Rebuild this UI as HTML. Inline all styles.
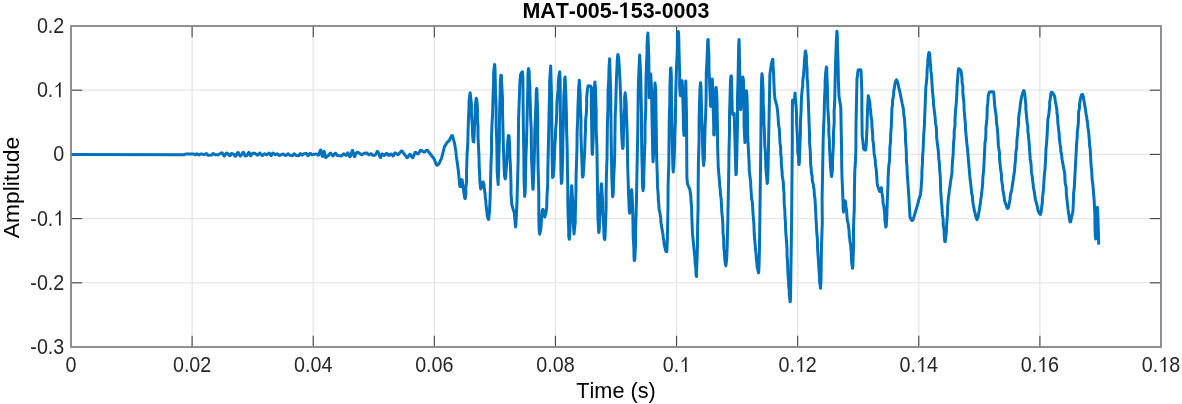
<!DOCTYPE html>
<html><head><meta charset="utf-8"><style>
html,body{margin:0;padding:0;background:#fff;width:1182px;height:404px;overflow:hidden}
svg{display:block;will-change:transform}
text{font-family:"Liberation Sans",sans-serif;stroke:none;font-kerning:none}
</style></head><body>
<svg width="1182" height="404" viewBox="0 0 1182 404">
<rect x="0" y="0" width="1182" height="404" fill="#fff"/>
<g stroke="#e6e6e6" stroke-width="1.3"><line x1="192.11" y1="26.0" x2="192.11" y2="347.0"/><line x1="313.22" y1="26.0" x2="313.22" y2="347.0"/><line x1="434.33" y1="26.0" x2="434.33" y2="347.0"/><line x1="555.44" y1="26.0" x2="555.44" y2="347.0"/><line x1="676.56" y1="26.0" x2="676.56" y2="347.0"/><line x1="797.67" y1="26.0" x2="797.67" y2="347.0"/><line x1="918.78" y1="26.0" x2="918.78" y2="347.0"/><line x1="1039.89" y1="26.0" x2="1039.89" y2="347.0"/><line x1="71.0" y1="90.20" x2="1161.0" y2="90.20"/><line x1="71.0" y1="154.40" x2="1161.0" y2="154.40"/><line x1="71.0" y1="218.60" x2="1161.0" y2="218.60"/><line x1="71.0" y1="282.80" x2="1161.0" y2="282.80"/></g>
<g stroke="#444" stroke-width="1.1"><line x1="192.11" y1="347.0" x2="192.11" y2="335.8"/><line x1="192.11" y1="26.0" x2="192.11" y2="37.2"/><line x1="313.22" y1="347.0" x2="313.22" y2="335.8"/><line x1="313.22" y1="26.0" x2="313.22" y2="37.2"/><line x1="434.33" y1="347.0" x2="434.33" y2="335.8"/><line x1="434.33" y1="26.0" x2="434.33" y2="37.2"/><line x1="555.44" y1="347.0" x2="555.44" y2="335.8"/><line x1="555.44" y1="26.0" x2="555.44" y2="37.2"/><line x1="676.56" y1="347.0" x2="676.56" y2="335.8"/><line x1="676.56" y1="26.0" x2="676.56" y2="37.2"/><line x1="797.67" y1="347.0" x2="797.67" y2="335.8"/><line x1="797.67" y1="26.0" x2="797.67" y2="37.2"/><line x1="918.78" y1="347.0" x2="918.78" y2="335.8"/><line x1="918.78" y1="26.0" x2="918.78" y2="37.2"/><line x1="1039.89" y1="347.0" x2="1039.89" y2="335.8"/><line x1="1039.89" y1="26.0" x2="1039.89" y2="37.2"/><line x1="71.0" y1="90.20" x2="82.2" y2="90.20"/><line x1="1161.0" y1="90.20" x2="1149.8" y2="90.20"/><line x1="71.0" y1="154.40" x2="82.2" y2="154.40"/><line x1="1161.0" y1="154.40" x2="1149.8" y2="154.40"/><line x1="71.0" y1="218.60" x2="82.2" y2="218.60"/><line x1="1161.0" y1="218.60" x2="1149.8" y2="218.60"/><line x1="71.0" y1="282.80" x2="82.2" y2="282.80"/><line x1="1161.0" y1="282.80" x2="1149.8" y2="282.80"/></g>
<defs><clipPath id="ax"><rect x="71.0" y="0" width="1090.0" height="404"/></clipPath></defs>
<path d="M71.0,154.6 L184.2,154.7 L185.5,154.0 L193.8,154.0 L195.1,154.8 L195.4,154.8 L196.7,153.7 L198.7,154.9 L201.3,153.8 L204.0,154.7 L206.3,153.6 L206.6,153.6 L207.9,155.2 L211.6,155.0 L212.2,154.5 L212.9,153.6 L213.2,153.4 L215.2,154.7 L218.2,154.7 L221.8,152.7 L222.1,152.8 L223.8,155.8 L224.1,156.0 L224.8,155.4 L226.1,153.3 L226.4,153.0 L227.1,153.2 L229.7,155.7 L230.1,155.6 L231.4,153.5 L233.7,154.2 L235.0,156.1 L235.3,156.3 L235.7,156.3 L237.6,152.8 L238.0,152.5 L238.3,152.7 L240.0,155.9 L240.3,156.1 L241.9,154.5 L242.9,152.5 L243.3,152.3 L243.6,152.5 L245.2,155.9 L246.9,155.6 L248.5,152.7 L248.9,152.4 L249.2,152.7 L250.5,155.8 L250.8,155.8 L252.5,153.3 L255.1,153.3 L257.1,155.0 L257.8,155.1 L259.8,153.1 L260.1,153.1 L262.1,155.6 L262.4,155.7 L264.4,153.7 L266.4,154.7 L267.0,154.7 L269.0,153.1 L269.3,153.1 L271.0,155.6 L271.3,155.5 L272.6,153.3 L273.0,153.1 L275.3,154.7 L277.2,153.8 L277.9,154.2 L278.9,155.3 L279.6,155.4 L283.2,153.9 L285.5,155.5 L286.2,155.3 L287.8,153.8 L288.1,153.7 L289.8,155.2 L292.4,155.7 L294.1,153.8 L294.4,153.7 L296.1,155.5 L298.7,155.8 L300.0,153.7 L300.3,153.6 L301.7,155.1 L302.0,155.2 L303.6,153.8 L306.6,153.6 L307.6,155.5 L307.9,155.7 L308.6,155.2 L309.9,153.5 L310.6,153.5 L312.2,154.7 L316.2,153.9 L318.2,155.2 L318.5,155.1 L320.5,150.0 L320.8,150.0 L322.1,155.8 L322.5,156.5 L322.8,156.1 L323.8,152.2 L324.1,151.4 L324.4,151.8 L325.4,157.0 L325.8,157.5 L328.7,155.2 L330.0,153.4 L330.4,153.1 L330.7,153.2 L332.7,155.8 L333.0,155.9 L335.0,153.3 L335.3,153.2 L335.7,153.3 L337.0,155.3 L337.3,155.5 L341.6,155.9 L343.6,153.8 L344.2,154.0 L345.9,155.5 L346.2,155.5 L347.5,153.1 L347.9,152.9 L348.5,154.0 L349.5,156.3 L349.8,156.7 L350.2,156.7 L352.2,150.6 L352.5,150.4 L353.1,152.1 L354.1,156.1 L354.5,156.7 L354.8,156.6 L355.8,153.5 L357.1,152.3 L357.8,152.2 L361.7,154.8 L362.4,154.8 L364.0,153.2 L366.3,152.9 L367.0,153.2 L368.7,154.8 L369.3,154.7 L370.6,153.8 L371.3,153.8 L372.9,155.4 L375.3,155.1 L377.2,151.5 L377.6,151.4 L378.2,152.3 L379.9,156.8 L380.2,157.3 L380.5,157.5 L380.9,157.0 L381.9,154.1 L382.2,153.8 L383.8,155.4 L384.2,155.5 L386.5,153.5 L387.1,153.6 L388.8,155.4 L389.4,155.3 L391.1,154.0 L391.4,154.0 L393.1,155.9 L393.4,155.8 L394.7,153.1 L395.1,152.9 L397.7,154.5 L398.4,154.4 L401.3,151.1 L402.0,150.9 L406.9,157.6 L407.3,157.7 L407.9,157.2 L409.6,154.5 L409.9,154.3 L410.2,154.4 L412.2,157.4 L412.5,157.7 L412.9,157.6 L414.9,152.8 L415.2,152.3 L415.5,152.2 L417.5,153.9 L417.8,154.0 L418.5,153.5 L420.5,150.4 L421.1,150.2 L423.8,152.0 L424.8,151.7 L426.7,150.2 L427.4,150.3 L434.0,158.7 L436.3,164.4 L437.0,165.2 L437.6,165.2 L438.9,163.8 L441.5,158.3 L444.5,146.6 L447.2,142.4 L449.4,140.3 L451.2,136.4 L451.8,135.7 L452.1,135.5 L452.5,135.7 L454.4,142.8 L455.8,150.7 L456.3,155.9 L458.3,170.2 L459.7,185.1 L460.0,186.5 L460.5,186.7 L460.9,185.3 L461.3,180.9 L461.6,179.6 L462.1,179.9 L464.7,198.0 L465.1,198.5 L465.5,197.2 L465.9,193.6 L465.8,188.1 L466.6,181.0 L466.5,172.7 L467.1,153.8 L467.8,143.7 L468.0,133.7 L468.6,115.2 L469.0,107.4 L469.1,100.8 L470.0,93.2 L470.2,92.8 L471.5,105.2 L471.4,112.2 L471.8,119.6 L472.4,126.7 L472.5,133.2 L473.1,141.3 L473.8,141.9 L474.9,119.7 L475.4,105.5 L476.2,98.3 L476.6,99.3 L477.1,103.1 L477.5,109.2 L477.4,117.1 L478.0,126.3 L478.0,136.4 L479.0,157.1 L479.2,166.7 L479.7,175.2 L479.9,182.0 L480.7,188.9 L482.1,185.3 L482.6,182.8 L482.8,182.1 L483.2,182.1 L484.0,184.2 L484.2,188.6 L485.2,194.4 L485.3,197.6 L485.8,200.9 L486.0,204.2 L487.3,215.6 L488.1,218.8 L488.5,219.5 L488.8,219.2 L488.9,216.5 L489.5,211.6 L490.2,196.1 L491.0,163.1 L491.6,150.8 L491.5,138.2 L491.9,125.7 L492.6,113.6 L493.2,91.7 L493.6,82.5 L493.6,74.9 L494.0,69.2 L494.6,64.5 L495.0,68.2 L495.5,91.2 L496.2,107.7 L496.1,125.5 L496.8,143.2 L497.2,172.6 L498.2,184.5 L498.2,180.5 L498.7,170.9 L498.8,157.1 L499.4,140.7 L499.4,123.2 L500.4,80.8 L500.9,75.2 L501.5,75.7 L501.5,80.4 L502.5,98.7 L502.5,110.7 L503.5,149.5 L504.2,169.9 L504.6,176.2 L505.2,178.9 L505.8,175.9 L505.9,172.0 L506.8,161.6 L507.0,155.8 L507.8,140.4 L508.4,135.4 L509.1,136.1 L509.7,146.6 L509.8,155.1 L510.4,164.8 L511.0,184.7 L511.0,193.4 L511.8,204.7 L514.4,213.3 L515.5,227.0 L515.9,225.1 L517.0,201.6 L518.1,161.8 L518.6,118.5 L519.8,84.9 L520.2,78.2 L520.6,74.4 L521.8,72.2 L522.4,71.8 L522.9,77.5 L523.3,123.7 L523.8,152.9 L524.0,178.4 L524.7,196.4 L525.2,191.9 L525.9,157.6 L526.5,142.3 L527.9,84.3 L527.9,74.9 L528.4,69.4 L528.6,68.6 L529.2,72.0 L529.3,78.5 L529.9,86.8 L530.0,95.9 L530.4,104.6 L530.5,115.3 L531.2,128.6 L531.3,143.2 L531.5,157.8 L532.8,188.0 L533.0,189.3 L533.3,186.1 L533.4,179.4 L533.9,170.1 L534.6,146.4 L534.7,133.6 L536.1,99.7 L536.2,92.4 L536.7,88.4 L536.9,89.2 L537.8,118.3 L537.7,141.9 L538.1,167.7 L538.8,192.8 L538.8,214.3 L539.1,229.4 L539.7,234.2 L540.8,229.2 L541.2,225.5 L541.3,221.5 L542.2,211.4 L542.5,209.7 L542.9,209.3 L543.3,210.2 L544.8,217.0 L545.4,214.9 L546.0,212.7 L546.7,207.0 L547.0,195.8 L547.7,184.9 L547.8,171.4 L548.9,123.1 L549.2,107.2 L549.6,92.7 L549.7,80.4 L550.7,66.0 L551.7,102.9 L552.1,156.0 L552.6,177.6 L553.4,176.2 L553.4,173.4 L553.9,169.3 L554.9,144.5 L555.4,137.3 L555.6,129.9 L556.3,122.8 L556.8,109.9 L556.9,104.6 L557.6,94.7 L558.2,89.4 L558.2,84.3 L558.9,75.8 L559.7,71.8 L560.2,79.7 L560.3,106.2 L560.9,169.9 L561.4,183.5 L561.9,181.4 L562.8,151.9 L562.9,137.8 L563.4,123.2 L563.8,96.4 L564.5,86.2 L564.6,79.4 L565.1,76.9 L566.0,99.2 L566.4,113.9 L566.6,130.8 L567.2,149.0 L567.4,167.6 L567.8,185.7 L567.8,202.6 L568.2,217.2 L568.7,228.7 L568.7,236.3 L569.3,239.2 L569.7,236.2 L571.0,197.9 L571.7,185.7 L572.7,202.3 L572.7,212.8 L573.8,230.8 L574.1,234.0 L574.4,229.8 L575.2,222.9 L575.3,213.5 L576.0,189.5 L576.1,175.8 L577.0,147.0 L577.1,132.9 L577.7,119.5 L577.9,107.4 L578.4,97.0 L578.6,88.7 L579.3,80.2 L580.2,95.6 L580.4,107.1 L581.0,120.2 L580.9,133.9 L581.8,159.1 L582.2,168.7 L582.3,175.0 L582.7,177.1 L583.2,175.8 L584.0,161.7 L584.6,154.5 L585.1,138.1 L585.5,129.5 L585.6,120.8 L586.4,112.6 L586.7,104.9 L586.6,98.1 L587.6,88.5 L588.0,86.1 L588.3,85.8 L590.8,86.3 L591.3,87.4 L591.3,105.3 L592.1,153.3 L592.5,154.4 L593.2,137.7 L593.3,125.0 L594.3,88.5 L594.9,81.9 L595.4,87.4 L596.2,112.1 L596.2,129.2 L596.9,147.8 L597.9,216.8 L598.7,232.5 L599.0,232.1 L599.4,227.3 L599.5,219.5 L600.1,210.0 L600.2,200.4 L601.2,185.7 L601.5,183.7 L601.8,189.5 L602.3,195.8 L602.7,203.5 L602.7,211.8 L603.8,227.6 L604.1,238.0 L604.7,239.5 L605.0,237.1 L606.1,207.9 L606.1,193.0 L606.4,176.4 L607.0,158.9 L607.4,123.4 L608.0,106.8 L608.0,91.6 L608.8,78.7 L609.0,68.4 L609.6,58.8 L610.7,91.6 L611.1,135.5 L611.8,176.4 L612.6,196.8 L612.9,196.0 L613.3,192.1 L613.7,176.9 L614.3,166.5 L614.7,154.8 L615.2,115.6 L615.8,102.7 L616.4,79.3 L617.5,56.9 L617.9,54.6 L618.6,57.4 L619.3,66.4 L619.4,72.0 L619.9,77.7 L620.8,100.7 L621.6,131.9 L621.9,140.2 L622.7,148.6 L623.3,146.2 L623.3,139.1 L624.1,117.5 L624.7,106.4 L624.6,97.5 L625.2,92.8 L626.2,103.7 L626.4,113.0 L626.9,124.2 L627.5,149.9 L627.6,163.2 L628.7,198.0 L629.3,211.3 L629.7,213.2 L630.0,211.5 L631.4,190.7 L631.7,189.6 L632.0,193.4 L632.8,212.4 L633.2,237.2 L633.9,248.2 L634.0,256.5 L634.3,260.6 L634.7,259.6 L635.5,245.5 L635.5,233.6 L636.4,202.7 L637.8,128.8 L638.2,94.8 L638.5,80.5 L639.4,60.3 L639.7,55.1 L640.7,75.0 L641.0,92.5 L641.5,112.8 L641.5,133.9 L641.8,154.1 L642.3,171.6 L642.4,184.5 L643.0,190.7 L643.8,186.3 L643.7,178.6 L644.4,155.6 L645.0,141.5 L645.0,126.3 L645.7,110.7 L646.0,80.0 L646.4,66.1 L647.0,54.0 L647.1,44.0 L647.5,36.9 L647.9,33.1 L648.8,57.2 L649.2,97.8 L650.0,83.8 L650.2,77.6 L650.7,73.9 L651.6,89.9 L651.8,108.8 L652.9,160.0 L653.1,161.7 L653.7,152.2 L653.7,135.5 L654.4,115.9 L654.4,97.8 L655.0,83.0 L655.7,89.8 L656.7,159.5 L657.3,175.5 L657.5,186.3 L658.3,196.1 L658.3,200.1 L658.8,203.7 L658.9,207.0 L659.2,209.9 L659.9,212.6 L660.9,219.4 L660.8,221.6 L662.6,232.5 L663.1,234.8 L663.2,237.2 L664.0,241.7 L664.1,243.8 L665.8,251.1 L666.2,251.7 L666.8,251.7 L667.4,237.7 L668.0,205.6 L668.1,185.4 L668.8,164.0 L669.2,121.5 L669.8,102.5 L669.9,86.6 L670.6,68.1 L671.0,68.0 L671.4,77.5 L671.4,94.2 L671.9,114.9 L672.1,136.3 L672.9,168.0 L673.2,172.0 L673.9,164.3 L674.6,146.1 L674.8,134.3 L675.4,121.3 L675.7,93.8 L676.5,67.3 L677.1,55.7 L677.4,45.9 L677.4,38.2 L677.7,33.2 L678.3,31.5 L678.7,35.4 L679.2,58.9 L679.7,73.3 L679.6,85.9 L680.3,95.7 L681.1,93.4 L681.1,89.3 L681.8,81.4 L682.1,80.6 L682.5,87.1 L683.3,115.0 L683.5,128.2 L684.0,135.5 L684.5,124.9 L685.1,98.7 L685.8,81.0 L686.5,114.7 L686.9,177.0 L687.4,183.6 L689.9,189.8 L690.8,195.7 L691.0,200.8 L691.6,206.8 L691.7,213.5 L692.5,233.9 L694.9,257.7 L695.1,262.9 L695.9,269.3 L696.0,274.7 L696.5,276.5 L696.5,272.0 L697.0,261.7 L697.4,246.7 L697.6,228.0 L698.1,206.8 L698.2,184.2 L698.4,161.4 L699.1,139.5 L699.1,119.6 L699.9,90.4 L700.4,83.4 L700.6,82.7 L701.0,87.4 L701.8,120.3 L702.4,133.5 L702.6,145.9 L702.9,156.1 L703.6,165.5 L704.4,158.0 L704.5,149.6 L705.1,126.6 L705.7,113.2 L706.1,99.3 L706.3,72.5 L707.0,60.8 L707.6,43.8 L707.9,39.6 L708.2,39.5 L708.3,45.4 L708.9,56.0 L709.0,69.3 L710.6,106.4 L711.4,97.1 L711.3,89.6 L712.3,79.1 L713.0,92.8 L713.2,108.8 L713.7,124.4 L713.7,134.5 L714.3,135.0 L714.4,129.0 L715.0,119.2 L715.3,107.9 L715.2,97.3 L715.8,89.8 L716.1,87.5 L716.6,92.0 L717.0,101.9 L717.5,130.7 L717.6,145.9 L718.3,168.2 L719.6,182.8 L719.8,186.5 L720.3,189.7 L720.4,192.9 L720.7,196.1 L721.2,199.3 L721.8,212.0 L722.5,218.2 L722.9,225.4 L723.0,232.6 L723.7,239.1 L723.7,244.1 L723.9,248.4 L724.4,252.7 L724.9,260.3 L725.3,263.2 L725.9,265.9 L726.7,258.5 L727.1,248.9 L727.8,221.4 L728.8,168.4 L729.0,150.0 L729.5,132.3 L729.5,115.9 L730.5,80.9 L730.9,76.0 L731.4,76.2 L732.0,98.9 L732.2,110.9 L732.8,114.5 L733.4,113.5 L734.2,113.4 L735.9,174.8 L736.3,174.1 L736.6,163.8 L737.5,124.3 L737.4,100.4 L738.1,77.3 L738.7,44.2 L739.1,39.6 L740.5,109.8 L740.8,108.5 L741.6,91.6 L742.3,85.2 L742.3,80.0 L742.8,77.1 L743.4,79.5 L744.0,108.3 L744.1,125.7 L744.9,142.6 L745.3,135.8 L745.5,122.7 L746.1,107.8 L746.1,95.6 L746.5,90.8 L746.9,95.6 L747.3,107.0 L747.7,136.2 L749.2,165.0 L749.2,169.8 L750.7,182.6 L750.8,186.9 L751.6,198.8 L752.4,202.5 L753.1,214.7 L753.9,223.9 L754.2,233.5 L755.7,251.4 L756.2,255.1 L756.3,258.4 L757.0,263.9 L757.1,266.6 L758.6,272.8 L759.0,266.9 L759.4,252.1 L760.8,147.0 L761.2,97.7 L761.5,81.5 L761.9,73.8 L762.3,75.3 L763.2,92.5 L763.2,103.6 L763.9,113.6 L763.9,121.3 L764.3,129.2 L764.8,145.6 L765.5,153.6 L765.9,168.1 L767.2,183.5 L767.6,181.4 L768.0,171.4 L769.9,74.2 L771.4,63.8 L772.6,59.3 L772.8,59.4 L773.6,74.5 L774.4,94.0 L775.1,99.8 L776.9,105.8 L777.8,113.1 L778.6,124.8 L779.3,129.1 L780.0,142.7 L780.7,147.9 L780.7,153.3 L781.3,158.6 L781.3,163.5 L782.1,171.8 L782.2,175.6 L782.9,179.4 L783.4,183.4 L783.5,187.7 L784.0,192.6 L784.2,203.9 L784.8,210.0 L785.0,216.3 L785.5,222.8 L785.6,229.2 L787.0,248.1 L787.0,254.8 L787.5,261.6 L788.0,274.9 L788.6,281.0 L788.7,286.5 L789.3,291.1 L789.3,295.1 L790.1,301.8 L790.4,301.5 L790.7,286.5 L791.6,220.3 L792.3,143.3 L792.3,114.7 L792.5,100.2 L793.2,99.8 L793.8,102.8 L794.5,98.4 L795.1,93.0 L795.4,98.5 L796.1,106.4 L796.6,115.1 L796.6,122.6 L797.7,144.3 L797.7,151.5 L798.6,157.6 L798.6,162.2 L799.0,164.6 L799.3,163.4 L800.4,132.8 L800.5,120.4 L801.1,110.3 L801.4,98.6 L802.2,89.6 L802.8,85.7 L802.7,81.8 L803.1,78.0 L803.6,74.2 L804.3,64.9 L804.5,59.6 L805.0,54.9 L805.1,51.8 L805.6,51.0 L806.4,56.6 L806.4,62.1 L807.0,68.9 L807.1,76.6 L807.7,84.8 L809.5,133.8 L809.6,142.8 L810.3,151.2 L810.7,164.7 L811.2,169.0 L811.4,172.6 L812.1,175.6 L812.3,180.6 L813.4,184.9 L813.6,187.1 L814.1,189.5 L814.4,195.3 L815.0,198.9 L816.7,231.6 L817.3,237.9 L817.7,250.2 L818.1,255.9 L819.5,276.8 L819.6,281.9 L820.6,288.2 L821.0,279.4 L821.5,245.4 L822.3,222.9 L822.1,199.3 L823.2,138.5 L823.6,127.0 L824.1,116.6 L824.6,96.6 L825.1,87.6 L825.2,79.8 L825.6,73.6 L826.4,66.9 L826.7,67.9 L826.8,74.1 L827.3,84.0 L827.8,107.3 L828.8,124.4 L828.8,132.4 L829.4,140.6 L829.5,148.6 L830.0,156.2 L830.3,163.0 L831.3,175.8 L831.6,176.5 L832.5,169.7 L832.5,162.7 L833.4,143.9 L833.5,133.1 L834.2,122.2 L834.1,111.5 L834.7,101.6 L835.4,66.8 L836.3,43.1 L836.9,31.2 L837.3,34.8 L837.5,47.3 L838.1,64.2 L838.4,80.8 L839.0,96.2 L840.8,107.6 L841.6,151.4 L841.7,163.9 L842.0,177.2 L842.6,190.3 L843.2,209.4 L843.5,212.0 L843.7,210.7 L844.6,202.2 L845.0,200.8 L845.6,201.6 L845.9,206.4 L846.5,209.8 L847.3,220.5 L848.1,223.2 L849.1,230.8 L849.3,236.0 L849.8,238.7 L850.0,241.5 L850.6,244.6 L851.3,253.2 L851.4,258.1 L851.7,262.6 L852.5,268.2 L852.8,267.3 L853.6,244.4 L853.5,226.7 L854.3,208.4 L854.4,192.1 L854.8,170.6 L855.5,160.9 L855.9,147.3 L856.0,125.3 L857.0,78.1 L857.6,75.4 L857.6,73.2 L858.2,70.3 L858.6,69.7 L860.7,69.7 L861.1,71.5 L861.8,90.9 L861.9,115.1 L862.2,136.4 L863.0,142.4 L863.5,148.5 L864.3,149.7 L864.9,150.1 L865.4,150.1 L865.8,149.7 L866.4,141.6 L867.0,127.9 L867.3,115.4 L868.2,95.7 L869.3,100.1 L869.8,102.4 L870.2,107.7 L870.7,110.4 L870.7,113.3 L871.8,121.1 L871.9,125.7 L872.7,135.2 L872.8,139.8 L873.5,143.9 L874.1,153.2 L875.4,160.7 L875.3,163.4 L876.3,170.2 L877.2,183.4 L877.6,185.7 L879.3,190.9 L879.8,191.5 L880.1,191.3 L881.2,187.9 L881.4,187.7 L882.0,192.8 L882.9,199.1 L882.9,201.6 L883.3,204.1 L884.0,206.5 L884.1,209.2 L884.6,212.0 L884.9,220.4 L885.6,224.9 L885.7,227.2 L886.3,226.0 L886.8,216.5 L887.6,192.9 L888.0,184.8 L888.1,177.4 L888.8,165.8 L889.6,160.2 L889.9,147.7 L890.6,140.8 L890.7,133.8 L891.3,126.8 L891.9,108.9 L892.5,104.7 L892.5,101.5 L892.9,98.6 L893.6,95.7 L893.8,90.3 L894.4,87.9 L895.3,82.2 L896.2,80.2 L896.5,79.8 L897.1,80.9 L898.4,84.7 L898.5,86.3 L898.8,88.0 L899.4,89.6 L902.2,103.5 L903.1,107.4 L903.7,112.1 L903.7,114.9 L904.4,117.8 L905.4,133.0 L905.5,140.4 L906.1,147.9 L906.4,154.9 L906.4,161.0 L907.0,166.4 L907.1,171.5 L908.9,197.1 L909.2,203.3 L910.0,216.9 L911.0,219.5 L911.8,220.4 L912.2,220.6 L912.5,220.5 L913.2,219.5 L918.3,202.2 L918.7,200.0 L920.1,196.0 L920.5,194.5 L921.2,187.8 L921.9,176.6 L921.9,170.8 L922.4,164.5 L922.5,157.6 L923.1,150.2 L923.7,134.8 L924.3,127.2 L925.8,88.1 L926.9,77.3 L927.2,68.5 L927.8,64.2 L927.8,60.1 L928.6,53.9 L928.9,52.5 L929.4,52.9 L929.8,54.9 L930.2,62.1 L930.7,66.3 L930.8,70.4 L931.4,74.1 L932.5,91.3 L933.4,100.1 L933.5,104.2 L935.1,117.1 L935.5,123.2 L936.2,126.4 L936.6,133.4 L936.6,137.1 L938.4,151.7 L938.8,158.9 L939.3,162.7 L939.8,171.3 L940.3,176.7 L940.6,189.2 L941.4,201.4 L941.9,206.4 L942.4,214.9 L943.1,218.7 L943.3,226.1 L944.1,229.8 L944.1,234.2 L944.8,241.6 L945.2,241.7 L946.4,231.8 L946.5,227.0 L947.6,212.6 L947.6,207.1 L948.4,197.8 L948.9,194.6 L949.4,189.6 L949.9,187.4 L950.6,181.3 L952.0,173.1 L952.0,169.3 L952.6,159.9 L953.2,154.5 L953.3,148.8 L953.6,143.0 L954.2,137.0 L954.2,131.0 L955.0,125.2 L955.0,119.6 L955.6,109.3 L956.2,104.0 L956.9,92.4 L957.1,86.6 L958.3,69.9 L958.8,68.6 L960.2,69.6 L960.8,70.6 L961.3,72.3 L962.0,78.5 L962.1,82.5 L962.9,86.8 L962.8,91.4 L963.1,95.8 L963.7,100.0 L964.0,104.5 L964.1,109.4 L965.4,124.4 L965.5,128.8 L967.0,145.1 L967.5,148.9 L970.1,179.3 L971.2,187.9 L971.6,193.1 L972.3,195.6 L972.7,200.5 L973.3,205.0 L973.8,207.0 L974.3,210.7 L975.3,213.9 L975.5,215.6 L976.7,219.3 L977.0,219.7 L978.2,216.6 L978.7,212.8 L979.2,210.8 L980.5,202.0 L980.8,199.3 L981.3,196.5 L982.7,183.3 L982.7,179.4 L983.7,170.0 L985.0,142.8 L985.7,138.2 L985.9,133.3 L985.9,128.2 L986.5,122.9 L987.0,117.6 L987.2,107.6 L987.8,103.2 L988.1,99.3 L988.2,96.0 L989.2,92.4 L989.5,92.1 L993.0,91.7 L993.6,91.9 L993.8,93.0 L994.7,105.4 L995.5,111.8 L996.1,115.2 L996.5,122.6 L997.1,126.4 L997.8,134.2 L998.4,145.9 L999.6,153.2 L999.4,157.0 L1000.5,168.3 L1001.5,175.3 L1001.4,178.6 L1002.7,186.9 L1002.8,189.6 L1004.4,198.4 L1004.4,200.2 L1007.2,208.2 L1007.5,208.5 L1007.9,208.4 L1008.6,206.8 L1010.0,199.5 L1010.4,195.2 L1011.7,189.8 L1014.6,170.3 L1015.0,164.0 L1015.5,160.3 L1015.9,152.1 L1016.7,147.8 L1017.0,139.0 L1017.6,134.7 L1017.8,130.5 L1018.7,122.9 L1018.5,119.5 L1019.2,113.4 L1019.7,110.4 L1020.3,104.6 L1021.4,97.7 L1023.1,91.7 L1023.7,90.6 L1024.0,90.7 L1024.8,94.6 L1025.9,105.2 L1025.8,108.5 L1027.2,122.9 L1027.9,126.8 L1027.8,130.8 L1028.4,134.7 L1028.6,138.5 L1029.1,142.4 L1029.6,150.7 L1030.0,154.8 L1030.2,158.9 L1030.9,162.8 L1031.2,166.5 L1031.3,169.8 L1031.5,172.7 L1032.1,175.5 L1033.5,187.7 L1034.3,191.7 L1035.3,199.1 L1037.1,205.5 L1038.0,210.5 L1039.5,213.5 L1040.4,214.4 L1041.1,212.0 L1041.8,206.2 L1042.4,202.6 L1042.4,198.7 L1043.3,190.9 L1044.4,174.3 L1045.0,169.6 L1045.8,155.3 L1045.9,150.0 L1046.9,139.1 L1047.9,119.3 L1048.7,115.6 L1049.7,105.6 L1049.6,102.4 L1050.6,97.0 L1050.9,93.4 L1051.3,92.5 L1051.8,92.3 L1052.9,93.1 L1054.5,96.0 L1055.0,98.5 L1055.2,100.4 L1056.9,109.7 L1056.9,112.6 L1057.5,115.9 L1057.9,123.1 L1059.2,134.4 L1059.3,138.0 L1060.1,144.5 L1060.6,147.2 L1060.9,151.9 L1061.5,153.9 L1062.1,159.7 L1064.0,169.6 L1064.8,174.6 L1065.0,180.7 L1065.4,184.0 L1066.2,187.4 L1066.4,194.3 L1068.1,209.7 L1069.6,220.0 L1069.9,221.5 L1070.2,222.0 L1070.6,221.7 L1071.1,219.7 L1071.7,216.4 L1072.8,212.3 L1073.3,204.4 L1073.6,193.2 L1074.3,187.5 L1076.7,142.2 L1077.2,137.2 L1077.3,132.0 L1078.0,126.8 L1078.4,121.7 L1078.6,112.2 L1079.4,108.2 L1079.5,104.8 L1080.6,97.7 L1081.6,94.8 L1082.0,94.4 L1082.6,94.4 L1082.9,95.1 L1084.1,101.3 L1084.6,104.7 L1085.0,106.5 L1086.2,114.8 L1086.8,117.1 L1086.9,119.6 L1087.5,122.1 L1087.9,127.8 L1088.5,130.8 L1089.4,140.9 L1089.5,144.9 L1090.2,149.1 L1090.9,162.5 L1091.7,171.6 L1092.2,180.1 L1092.8,184.0 L1094.2,200.6 L1094.9,215.2 L1095.0,226.5 L1095.3,235.9 L1095.7,239.0 L1096.9,211.6 L1097.4,207.3 L1097.9,216.5 L1098.7,243.5" fill="none" stroke="#0072BD" stroke-width="3.0" stroke-linejoin="round" stroke-linecap="round" clip-path="url(#ax)"/>
<rect x="71.0" y="26.0" width="1090.0" height="321.0" fill="none" stroke="#848484" stroke-width="1.8"/>
<g transform="translate(71.00 372.00) scale(0.9 1)" font-size="21.9" style="fill:#262626"><text x="-6.09" y="0">0</text></g><g transform="translate(192.11 372.00) scale(0.9 1)" font-size="21.9" style="fill:#262626"><text x="-21.31" y="0">0.02</text></g><g transform="translate(313.22 372.00) scale(0.9 1)" font-size="21.9" style="fill:#262626"><text x="-21.31" y="0">0.04</text></g><g transform="translate(434.33 372.00) scale(0.9 1)" font-size="21.9" style="fill:#262626"><text x="-21.31" y="0">0.06</text></g><g transform="translate(555.44 372.00) scale(0.9 1)" font-size="21.9" style="fill:#262626"><text x="-21.31" y="0">0.08</text></g><g transform="translate(676.56 372.00) scale(0.9 1)" font-size="21.9" style="fill:#262626"><text x="-15.22" y="0">0.</text><path transform="translate(3.04 0) scale(0.01069 -0.01069)" d="M583,0 L763,0 L763,1409 L647,1409 C580,1290 420,1130 223,1010 L223,892 C360,950 490,1040 583,1120 Z"/></g><g transform="translate(797.67 372.00) scale(0.9 1)" font-size="21.9" style="fill:#262626"><text x="-21.31" y="0">0.</text><path transform="translate(-3.05 0) scale(0.01069 -0.01069)" d="M583,0 L763,0 L763,1409 L647,1409 C580,1290 420,1130 223,1010 L223,892 C360,950 490,1040 583,1120 Z"/><text x="9.13" y="0">2</text></g><g transform="translate(918.78 372.00) scale(0.9 1)" font-size="21.9" style="fill:#262626"><text x="-21.31" y="0">0.</text><path transform="translate(-3.05 0) scale(0.01069 -0.01069)" d="M583,0 L763,0 L763,1409 L647,1409 C580,1290 420,1130 223,1010 L223,892 C360,950 490,1040 583,1120 Z"/><text x="9.13" y="0">4</text></g><g transform="translate(1039.89 372.00) scale(0.9 1)" font-size="21.9" style="fill:#262626"><text x="-21.31" y="0">0.</text><path transform="translate(-3.05 0) scale(0.01069 -0.01069)" d="M583,0 L763,0 L763,1409 L647,1409 C580,1290 420,1130 223,1010 L223,892 C360,950 490,1040 583,1120 Z"/><text x="9.13" y="0">6</text></g><g transform="translate(1161.00 372.00) scale(0.9 1)" font-size="21.9" style="fill:#262626"><text x="-21.31" y="0">0.</text><path transform="translate(-3.05 0) scale(0.01069 -0.01069)" d="M583,0 L763,0 L763,1409 L647,1409 C580,1290 420,1130 223,1010 L223,892 C360,950 490,1040 583,1120 Z"/><text x="9.13" y="0">8</text></g><g transform="translate(64.30 33.00) scale(0.9 1)" font-size="21.9" style="fill:#262626"><text x="-30.44" y="0">0.2</text></g><g transform="translate(64.30 97.20) scale(0.9 1)" font-size="21.9" style="fill:#262626"><text x="-30.44" y="0">0.</text><path transform="translate(-12.18 0) scale(0.01069 -0.01069)" d="M583,0 L763,0 L763,1409 L647,1409 C580,1290 420,1130 223,1010 L223,892 C360,950 490,1040 583,1120 Z"/></g><g transform="translate(64.30 161.40) scale(0.9 1)" font-size="21.9" style="fill:#262626"><text x="-12.18" y="0">0</text></g><g transform="translate(64.30 225.60) scale(0.9 1)" font-size="21.9" style="fill:#262626"><text x="-37.74" y="0">-0.</text><path transform="translate(-12.18 0) scale(0.01069 -0.01069)" d="M583,0 L763,0 L763,1409 L647,1409 C580,1290 420,1130 223,1010 L223,892 C360,950 490,1040 583,1120 Z"/></g><g transform="translate(64.30 289.80) scale(0.9 1)" font-size="21.9" style="fill:#262626"><text x="-37.74" y="0">-0.2</text></g><g transform="translate(64.30 354.00) scale(0.9 1)" font-size="21.9" style="fill:#262626"><text x="-37.74" y="0">-0.3</text></g>
<text transform="translate(616 397.7) scale(1.01 1)" font-size="21.5" text-anchor="middle">Time (s)</text>
<text transform="translate(19.3 187.5) rotate(-90) scale(1.06 1)" font-size="21.5" text-anchor="middle">Amplitude</text>
<g transform="translate(615.90 18.00) scale(0.948 1)" font-size="22.6" font-weight="bold" style="fill:#000"><text x="-98.61" y="0">MAT-005-</text><path transform="translate(3.10 0) scale(0.01104 -0.01104)" d="M478,0 L759,0 L759,1409 L493,1409 C420,1290 280,1200 140,1180 L140,959 C260,990 380,1060 478,1140 Z"/><text x="15.67" y="0">53-0003</text></g>
</svg>
</body></html>
